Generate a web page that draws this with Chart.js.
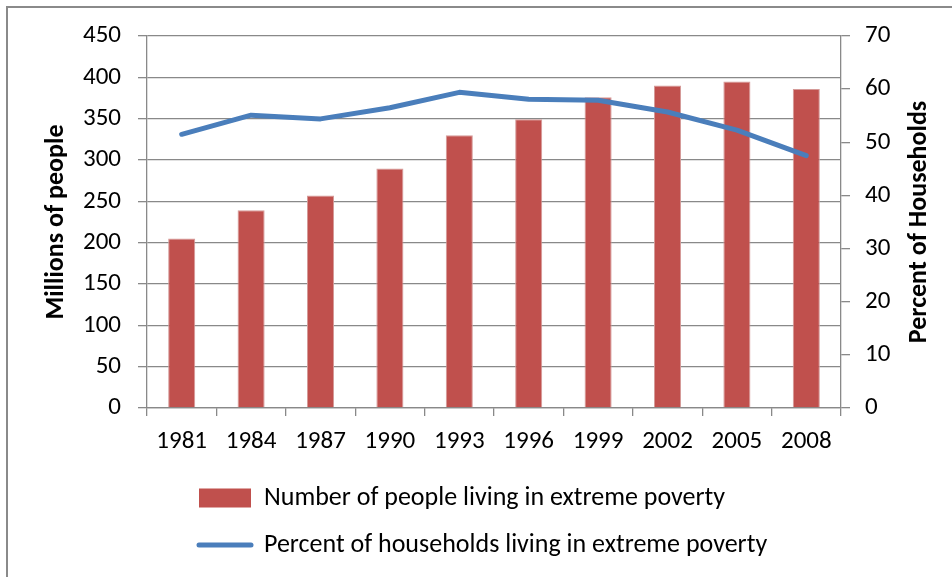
<!DOCTYPE html>
<html>
<head>
<meta charset="utf-8">
<script src="https://cdn.jsdelivr.net/npm/chart.js@4/dist/chart.umd.min.js"></script>
<style>
  html, body { margin: 0; padding: 0; background: #ffffff; }
  #wrap { position: relative; width: 952px; height: 577px; }
</style>
</head>
<body>
<div id="wrap"><canvas id="c" width="952" height="577"></canvas></div>
<script>
// ---- data ----
const years = ['1981', '1984', '1987', '1990', '1993', '1996', '1999', '2002', '2005', '2008'];
const peopleMillions = [204.9, 239.1, 257.1, 289.7, 330.0, 349.4, 376.0, 390.0, 394.9, 386.0];
const percentHouseholds = [51.5, 55.1, 54.4, 56.5, 59.4, 58.1, 57.9, 55.7, 52.3, 47.5];
const barLabel = 'Number of people living in extreme poverty';
const lineLabel = 'Percent of households living in extreme poverty';
const leftTitle = 'Millions of people';
const rightTitle = 'Percent of Households';

const FONT = "Carlito, Lato, 'Open Sans', sans-serif";
const TICK_SIZE = 25;
const LEGEND_SIZE = 26;
const TITLE_SIZE = 26;
const GRID = '#898989';

const framePlugin = {
  id: 'frame',
  beforeDraw(chart) {
    const ctx = chart.ctx;
    ctx.save();
    ctx.strokeStyle = '#8a8a8a';
    ctx.lineWidth = 2;
    ctx.beginPath();
    ctx.moveTo(7, 577);
    ctx.lineTo(7, 7);
    ctx.lineTo(952, 7);
    ctx.stroke();
    ctx.restore();
    // align legend rows to a common left edge
    const lg = chart.legend;
    if (lg && lg.lineWidths) {
      const pad = lg.options.labels.padding;
      const L = lg.left + pad + lg.right - 2 * 199;
      for (let i = 0; i < lg.lineWidths.length; i++) lg.lineWidths[i] = L;
    }
  },
  afterDraw(chart) {
    const ctx = chart.ctx;
    const a = chart.chartArea;
    ctx.save();
    ctx.translate(919, (a.top + a.bottom) / 2);
    ctx.rotate(-Math.PI / 2);
    ctx.font = "bold " + TITLE_SIZE + "px " + FONT;
    ctx.fillStyle = '#000';
    ctx.textAlign = 'center';
    ctx.textBaseline = 'middle';
    ctx.fillText(rightTitle, 0, 0);
    ctx.restore();
  }
};

new Chart(document.getElementById('c'), {
  data: {
    labels: years,
    datasets: [
      {
        type: 'line',
        label: lineLabel,
        data: percentHouseholds,
        yAxisID: 'y1',
        borderColor: '#4A7EBB',
        backgroundColor: '#4A7EBB',
        borderWidth: 5,
        borderCapStyle: 'round',
        borderJoinStyle: 'round',
        pointRadius: 0,
        pointHoverRadius: 0,
        tension: 0,
        order: 0
      },
      {
        type: 'bar',
        label: barLabel,
        data: peopleMillions,
        yAxisID: 'y',
        backgroundColor: '#C0504D',
        borderColor: '#D59A98',
        borderWidth: 1,
        barPercentage: 0.39,
        categoryPercentage: 1.0,
        order: 1
      }
    ]
  },
  options: {
    responsive: false,
    animation: false,
    layout: { padding: { top: 36, left: 0, right: 0, bottom: 9 } },
    plugins: {
      tooltip: { enabled: false },
      legend: {
        position: 'bottom',
        reverse: true,
        labels: {
          color: '#000',
          font: { family: FONT, size: LEGEND_SIZE },
          padding: 21,
          usePointStyle: true,
          pointStyleWidth: 52,
          boxHeight: 19,
          generateLabels(chart) {
            const items = Chart.defaults.plugins.legend.labels.generateLabels(chart);
            items.forEach(it => {
              const ds = chart.data.datasets[it.datasetIndex];
              if (ds.type === 'line') {
                it.pointStyle = 'line';
                it.lineWidth = 5;
                it.strokeStyle = '#4A7EBB';
                it.lineCap = 'round';
              } else {
                it.pointStyle = 'rect';
                it.fillStyle = '#C0504D';
                it.strokeStyle = '#C0504D';
                it.lineWidth = 0;
              }
            });
            return items;
          }
        }
      }
    },
    scales: {
      x: {
        type: 'category',
        offset: true,
        grid: { display: true, offset: true, drawOnChartArea: false, drawTicks: true, tickLength: 8, color: GRID, lineWidth: 1.3 },
        border: { display: true, color: GRID, width: 1.3 },
        ticks: { color: '#000', font: { family: FONT, size: TICK_SIZE }, padding: 11, maxRotation: 0, autoSkip: false },
        afterFit(s) { s.height = 56; }
      },
      y: {
        position: 'left',
        min: 0, max: 450,
        ticks: { stepSize: 50, color: '#000', font: { family: FONT, size: TICK_SIZE }, padding: 17 },
        grid: { color: GRID, lineWidth: 1.3, tickLength: 9, drawTicks: true },
        border: { display: true, color: GRID, width: 1.3 },
        title: { display: true, text: leftTitle, color: '#000', font: { family: FONT, size: TITLE_SIZE, weight: 'bold' }, padding: { top: 41, bottom: 0 } },
        afterFit(s) { s.width = 147; }
      },
      y1: {
        position: 'right',
        min: 0, max: 70,
        ticks: { stepSize: 10, color: '#000', font: { family: FONT, size: TICK_SIZE }, padding: 15 },
        grid: { drawOnChartArea: false, color: GRID, lineWidth: 1.3, tickLength: 9, drawTicks: true },
        border: { display: true, color: GRID, width: 1.3 },
        afterFit(s) { s.width = 111; }
      }
    }
  },
  plugins: [framePlugin]
});
</script>
</body>
</html>
